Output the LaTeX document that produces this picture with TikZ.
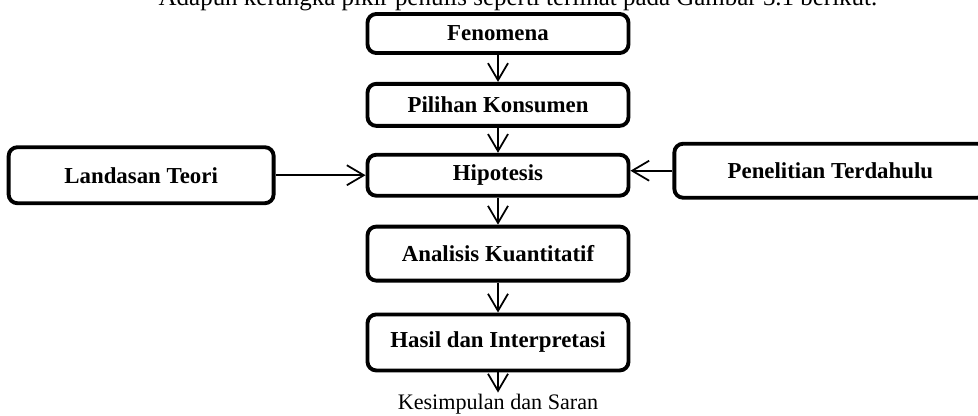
\documentclass[tikz,border=0pt]{standalone}
\usepackage{fontspec}
\setmainfont{Liberation Serif}
\usetikzlibrary{positioning,arrows.meta}

\begin{document}
\begin{tikzpicture}[
  box/.style={draw, rounded corners=5pt, line width=2.2pt, minimum width=5.22cm,
    align=center, font=\bfseries\fontsize{13}{15}\selectfont},
  arr/.style={-{Straight Barb[length=3.4mm,width=4mm]}, line width=1pt},
  plain/.style={inner sep=1pt}
]
\useasboundingbox (0,0) rectangle (19.56,8.32);
\node[plain, anchor=base, font=\fontsize{14.2}{16}\selectfont] (cap) at (10.36,8.2) {Adapun kerangka pikir penulis seperti terlihat pada Gambar 3.1 berikut.};
\node[box, minimum height=0.78cm] (fen) at (9.96,7.65) {Fenomena};
\node[box, minimum height=0.84cm, below=0.54cm of fen] (pil) {Pilihan Konsumen};
\node[box, minimum height=0.82cm, below=0.5cm of pil] (hip) {Hipotesis};
\node[box, minimum height=1.08cm, below=0.54cm of hip] (ana) {Analisis Kuantitatif};
\node[box, minimum height=1.12cm, below=0.6cm of ana] (has) {Hasil dan Interpretasi};
\node[box, minimum height=1.12cm, minimum width=5.3cm, left=1.8cm of hip] (lan) {Landasan Teori};
\node[box, minimum height=1.08cm, minimum width=6.24cm, right=0.84cm of hip, yshift=0.09cm] (pen) {Penelitian Terdahulu};
\node[plain, anchor=base, font=\fontsize{12.6}{14}\selectfont] (kes) at (9.96,0.12) {Kesimpulan dan Saran};

\draw[arr] (fen) -- (pil);
\draw[arr] (pil) -- (hip);
\draw[arr] (hip) -- (ana);
\draw[arr] (ana) -- (has);
\draw[arr] (has) -- (kes);
\draw[arr] (lan) -- (hip);
\draw[arr] (pen.west) -- (pen.west -| hip.east);
\end{tikzpicture}
\end{document}
